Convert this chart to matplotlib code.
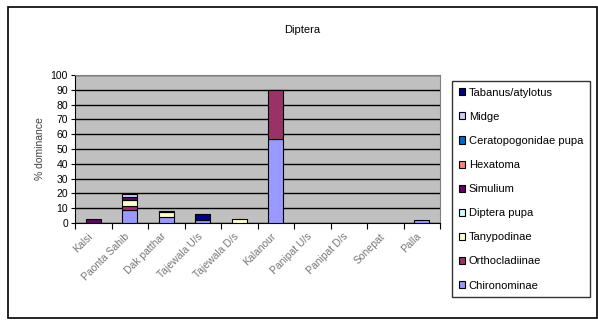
import numpy as np
import matplotlib
matplotlib.use('Agg')
import matplotlib.pyplot as plt
from matplotlib.patches import Rectangle

plt.rcParams['font.family'] = ['Liberation Sans', 'DejaVu Sans']

sites = ['Kalsi', 'Paonta Sahib', 'Dak patthar', 'Tajewala U/s', 'Tajewala D/s',
         'Kalanour', 'Panipat U/s', 'Panipat D/s', 'Sonepat', 'Palla']

# stacked from bottom to top
taxa = ['Chironominae', 'Orthocladiinae', 'Tanypodinae', 'Diptera pupa', 'Simulium',
        'Hexatoma', 'Ceratopogonidae pupa', 'Midge', 'Tabanus/atylotus']
colors = ['#9999FF', '#993366', '#FFFFCC', '#CCFFFF', '#660066',
          '#FF8080', '#0066CC', '#CCCCFF', '#000080']

chironominae    = [0, 9, 4, 2, 0, 57, 0, 0, 0, 2]
orthocladiinae  = [0, 2.5, 0, 0, 0, 33, 0, 0, 0, 0]
tanypodinae     = [0, 4, 3.5, 0, 2.5, 0, 0, 0, 0, 0]
diptera_pupa    = [0, 0, 0, 0, 0, 0, 0, 0, 0, 0]
simulium        = [2.5, 2, 0, 0, 0, 0, 0, 0, 0, 0]
hexatoma        = [0, 0, 0, 0, 0, 0, 0, 0, 0, 0]
ceratopogonidae = [0, 0, 0, 0, 0, 0, 0, 0, 0, 0]
midge           = [0, 2, 0, 0, 0, 0, 0, 0, 0, 0]
tabanus         = [0, 0, 0.8, 4, 0, 0, 0, 0, 0, 0]

values = [chironominae, orthocladiinae, tanypodinae, diptera_pupa, simulium,
          hexatoma, ceratopogonidae, midge, tabanus]

fig = plt.figure(figsize=(5.98, 3.25), dpi=100)
fig.patches.append(Rectangle((8 / 598, 7 / 325), 589 / 598, 311 / 325,
                             transform=fig.transFigure, fill=False,
                             edgecolor='black', linewidth=1.2))

ax = fig.add_axes([75 / 598, 1 - 223 / 325, 365 / 598, 148 / 325])
ax.set_facecolor('#C0C0C0')

x = np.arange(len(sites))
bottom = np.zeros(len(sites))
handles = []
for name, col, vals in zip(taxa, colors, values):
    vals = np.array(vals, dtype=float)
    nz = vals > 0
    ax.bar(x[nz], vals[nz], width=0.42, bottom=bottom[nz], color=col,
           edgecolor='black', linewidth=0.8, zorder=3)
    handles.append(Rectangle((0, 0), 1, 1, facecolor=col, edgecolor='black',
                             linewidth=0.8))
    bottom += vals

ax.set_xlim(-0.5, len(sites) - 0.5)
ax.set_ylim(0, 100)
ax.set_yticks(range(0, 101, 10))
ax.yaxis.grid(True, color='black', linewidth=1)
ax.set_axisbelow(True)
ax.tick_params(axis='y', labelsize=7.5, length=3, pad=2)

ax.set_xticks(np.arange(-0.5, len(sites), 1))
ax.set_xticklabels([])
# labels sit a little left of the bar centres, as in the original
ax.set_xticks(x - 0.15, minor=True)
ax.set_xticklabels(sites, minor=True, rotation=45, ha='right',
                   rotation_mode='anchor', fontsize=7.5, color='#777777')
ax.tick_params(axis='x', which='major', length=4, direction='out')
ax.tick_params(axis='x', which='minor', length=0, pad=6)

for s in ['top', 'right']:
    ax.spines[s].set_color('#808080')
ax.spines['left'].set_color('black')
ax.spines['bottom'].set_color('black')

ax.set_ylabel('% dominance', fontsize=7.5, color='#404040', labelpad=4)
fig.text(302 / 598, 1 - 30 / 325, 'Diptera', ha='center', va='center', fontsize=8)

leg = fig.legend(handles[::-1], taxa[::-1], loc='upper left',
                 bbox_to_anchor=(452 / 598, 1 - 81 / 325), fontsize=8,
                 frameon=True, fancybox=False, edgecolor='black',
                 handlelength=0.6, handleheight=0.6, handletextpad=0.3,
                 labelspacing=1.27, borderpad=0.6, borderaxespad=0)
leg.get_frame().set_linewidth(1)

fig.savefig('out.png', dpi=100)
